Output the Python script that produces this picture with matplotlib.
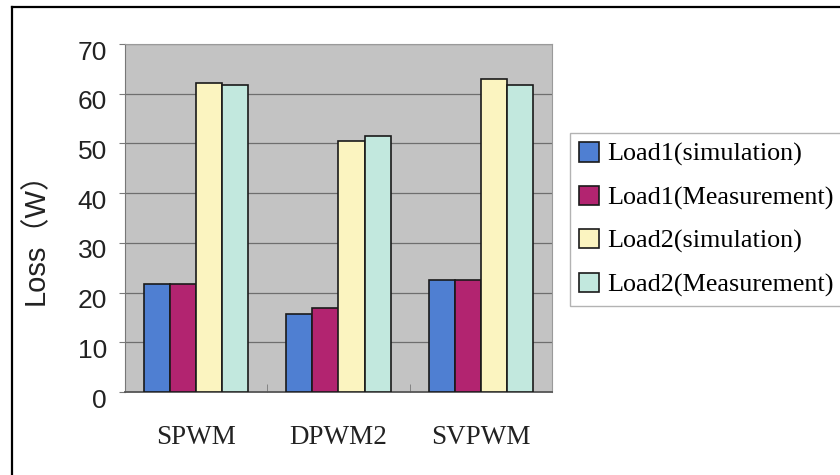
import numpy as np
import matplotlib
matplotlib.use("Agg")
import matplotlib.pyplot as plt
from matplotlib.lines import Line2D
import matplotlib.transforms as mtransforms

# values
categories = ["SPWM", "DPWM2", "SVPWM"]
series_names = ["Load1(simulation)", "Load1(Measurement)",
                "Load2(simulation)", "Load2(Measurement)"]
load1_sim = [21.8, 15.7, 22.5]
load1_meas = [21.8, 16.8, 22.5]
load2_sim = [62.2, 50.4, 62.9]
load2_meas = [61.8, 51.5, 61.8]
colors = ["#4f7fd2", "#b22470", "#fbf4c0", "#c2e8de"]
yticks = [0, 10, 20, 30, 40, 50, 60, 70]

W, H = 840, 475
fig = plt.figure(figsize=(W / 100, H / 100), dpi=100)
fig.patch.set_facecolor("white")

# axes box in pixel coords: left 125, right 552, top 44, bottom 392
ax = fig.add_axes([125 / W, 1 - 392 / H, (552 - 125) / W, (392 - 44) / H])
ax.set_facecolor("#c3c3c3")

x = np.arange(len(categories))
width = 0.183
all_series = [load1_sim, load1_meas, load2_sim, load2_meas]
handles = []
for i, (vals, col) in enumerate(zip(all_series, colors)):
    offs = (i - 1.5) * width
    b = ax.bar(x + offs, vals, width, color=col, edgecolor="#1a1a1a",
               linewidth=1.2, zorder=3, label=series_names[i])
    handles.append(b)

ax.set_xlim(-0.5, 2.5)
ax.set_ylim(0, 70)
ax.set_yticks(yticks)
ax.yaxis.grid(True, color="#6e6e6e", linewidth=0.9, zorder=1)
ax.set_axisbelow(True)

ax.set_xticks(x)
ax.set_xticklabels(categories)
ax.set_xticks([0.5, 1.5], minor=True)
ax.tick_params(axis="x", which="major", length=0, pad=24)
ax.tick_params(axis="x", which="minor", direction="in", length=6,
               color="#7a7a7a")
ax.tick_params(axis="y", length=4, color="#7a7a7a", pad=9)
for lab in ax.get_xticklabels():
    lab.set_family("Liberation Serif")
    lab.set_fontsize(19.5)
    lab.set_color("#222222")
for lab in ax.get_yticklabels():
    lab.set_family("Liberation Sans")
    lab.set_fontsize(19)
    lab.set_color("#222222")
    lab.set_transform(lab.get_transform() +
                      mtransforms.ScaledTranslation(0, -6 / 100, fig.dpi_scale_trans))

for side in ["top", "right"]:
    ax.spines[side].set_color("#9a9a9a")
ax.spines["left"].set_color("#777777")
ax.spines["bottom"].set_color("#555555")
ax.spines["bottom"].set_linewidth(1.3)

ax.set_ylabel("Loss（W）", family=["Liberation Sans", "Noto Sans CJK SC"],
              fontsize=21, color="#222222")
ax.yaxis.set_label_coords(-0.175, 0.46)

leg = fig.legend(handles=handles, loc="upper left",
                 bbox_to_anchor=(570 / W, 1 - 133 / H),
                 prop={"family": "Liberation Serif", "size": 18.8},
                 frameon=True, fancybox=False, edgecolor="#a0a0a0",
                 handlelength=0.75, handleheight=0.75, handletextpad=0.3,
                 labelspacing=0.74, borderpad=0.36, borderaxespad=0)
leg.get_frame().set_linewidth(1.0)

# outer frame lines (top and left only visible)
fig.add_artist(Line2D([12 / W, 1.0], [1 - 7 / H, 1 - 7 / H],
                      color="black", linewidth=1.6, transform=fig.transFigure))
fig.add_artist(Line2D([12 / W, 12 / W], [0.0, 1 - 7 / H],
                      color="black", linewidth=1.6, transform=fig.transFigure))

fig.savefig("out.png", dpi=100)
